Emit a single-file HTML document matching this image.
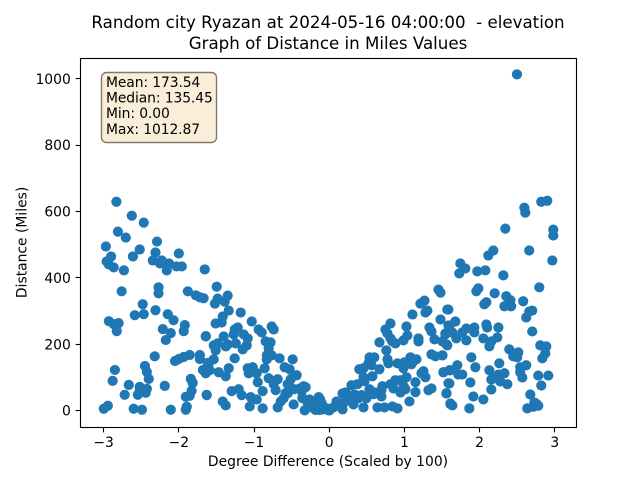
<!DOCTYPE html>
<html>
<head>
<meta charset="utf-8">
<title>Random city Ryazan elevation chart</title>
<style>
html,body{margin:0;padding:0;background:#fff;width:640px;height:480px;overflow:hidden}
svg{display:block}
text{font-family:"DejaVu Sans","Liberation Sans",sans-serif;fill:#000;white-space:pre}
</style>
</head>
<body>
<svg id="chart" width="640" height="480" viewBox="0 0 640 480" xmlns="http://www.w3.org/2000/svg">
  <rect x="0" y="0" width="640" height="480" fill="#fff"/>
  <text x="328" y="28" font-size="16.67" text-anchor="middle" xml:space="preserve">Random city Ryazan at 2024-05-16 04:00:00  - elevation</text>
  <text x="328" y="49" font-size="16.67" text-anchor="middle">Graph of Distance in Miles Values</text>
  <g id="points"></g>
  <g id="xticks"></g>
  <g id="yticks"></g>
  <rect x="80.5" y="58.5" width="496" height="369" fill="none" stroke="#000" stroke-width="1.11"/>
  <text x="328" y="466" font-size="13.89" text-anchor="middle">Degree Difference (Scaled by 100)</text>
  <text transform="translate(26.5 242.4) rotate(-90)" font-size="13.89" text-anchor="middle">Distance (Miles)</text>
  <g>
    <rect x="101.5" y="72.5" width="115" height="70" rx="5" ry="5" fill="#faeed9" stroke="#7f7a70" stroke-width="1.39"/>
    <text x="106" y="87" font-size="13.89" letter-spacing="-0.1">Mean: 173.54</text>
    <text x="106" y="102.5" font-size="13.89" letter-spacing="-0.1">Median: 135.45</text>
    <text x="106" y="118" font-size="13.89" letter-spacing="-0.1">Min: 0.00</text>
    <text x="106" y="134" font-size="13.89" letter-spacing="-0.1">Max: 1012.87</text>
  </g>
</svg>
<script>
const xTicks = [-3,-2,-1,0,1,2,3];
const yTicks = [0,200,400,600,800,1000];
const xValues = [
-2.83,-2.625,-2.466,-2.81,-2.705,-2.97,-2.29,-2.52,-2.31,-2.0,-2.61,-2.90,-2.96,-2.93,-2.865,-2.73,-2.346,-2.226,-2.25,-2.13,-2.03,-1.96,-2.16,-1.655,-2.27,-2.27,-2.76,-1.88,-1.775,-1.72,-1.67,-2.48,-2.31,-2.466,-2.585,-2.147,-2.07,-2.93,-2.865,-2.8,-2.825,-1.92,-1.935,-2.213,-2.107,-2.173,-1.64,-2.32,-1.855,-1.935,-2.0,-2.05,-1.72,-1.72,-2.45,-2.425,-2.4,-2.85,-2.88,-2.665,-2.72,-2.52,-2.425,-2.52,-2.44,-2.545,-2.187,-1.84,-1.815,-1.83,-1.855,-1.907,-1.63,-1.68,-1.64,-1.615,-2.997,-2.944,-2.6,-2.49,-2.107,-1.894,-1.907,
-1.496,-1.35,-1.483,-1.39,-1.52,-1.336,-1.177,-1.416,-1.03,-1.43,-1.51,-1.217,-1.257,-0.938,-0.898,-0.765,-0.738,-1.27,-1.642,-1.403,-1.084,-1.137,-1.483,-1.536,-1.35,-1.243,-0.845,-0.78,-0.805,-1.097,-1.15,-1.509,-1.376,-1.257,-1.536,-0.83,-0.765,-0.66,-0.486,-0.83,-1.6,-1.642,-1.59,-1.336,-1.47,-1.376,-0.858,-1.084,-1.017,-1.07,-0.964,-0.592,-0.526,-0.433,-0.805,-0.685,-0.95,-0.738,-0.512,-0.552,-0.34,-0.885,-0.712,-1.204,-1.297,-1.164,-1.629,-1.044,-0.964,-1.416,-1.376,-1.057,-0.885,-0.685,-0.473,-0.645,-0.58,-0.393,-0.313,-0.526,-0.366,-0.26,-0.14,-0.193,-0.326,-0.18,-0.07,-0.007,-0.207,-0.1,-0.286,-0.127,-0.605,-0.55,-0.47,-0.357,
1.453,1.48,1.267,1.213,1.306,1.28,1.107,1.57,1.48,0.815,1.027,0.748,1.333,1.36,0.775,1.586,1.546,1.04,0.815,1.187,1.187,1.4,0.987,0.668,0.88,0.84,1.56,0.76,1.36,1.413,1.506,0.536,0.6,0.775,0.788,1.08,1.16,1.12,1.094,0.908,1.0,0.96,0.987,0.522,0.562,0.4,0.456,0.668,1.253,1.227,1.28,1.52,1.6,0.456,0.575,0.47,1.027,0.88,0.948,1.147,1.586,0.376,0.296,0.708,0.815,0.99,1.36,1.32,1.147,1.56,0.217,0.177,0.536,0.336,0.43,0.562,0.615,0.695,0.948,1.014,0.855,1.067,1.612,0.097,0.323,0.456,0.177,0.642,0.735,0.841,0.908,0.004,-0.076,-0.12,0.057,0.19,0.257,0.39,0.496,0.59,0.695,0.137,-0.03,
2.9,2.82,2.595,2.608,2.342,2.98,2.98,2.183,2.116,2.66,2.967,1.744,1.81,1.73,1.97,2.076,2.316,2.794,1.983,1.957,2.2,2.355,2.41,2.58,2.09,2.063,2.33,2.42,2.7,2.66,1.585,2.62,1.678,1.6,2.09,2.1,2.25,1.93,1.824,1.93,1.77,1.637,1.545,2.7,2.236,2.05,1.69,1.824,2.156,2.13,1.505,1.57,2.807,2.887,2.395,2.874,2.515,2.834,2.448,2.5,1.505,1.89,2.262,1.944,1.704,2.62,2.54,2.13,1.61,1.518,1.717,1.77,2.54,2.568,2.78,2.914,2.33,2.25,2.21,2.156,2.276,2.369,1.598,1.877,2.82,2.156,1.558,2.674,1.917,2.05,1.638,1.611,1.864,2.728,2.634,2.714,2.78,2.754,2.497
];
const yValues = [
629,587,566,539,521,494,509,485,476,473,464,464,449,440,431,422,452,452,443,443,434,434,422,425,371,353,359,359,347,341,338,320,302,290,287,290,272,269,260,263,239,257,239,245,233,212,224,163,167,161,155,149,167,155,134,116,95,122,89,77,47,71,65,59,53,47,74,95,83,59,44,41,47,122,113,143,5,14,5,2,2,11,2,
373,346,337,328,322,301,295,283,268,265,262,250,244,244,235,253,244,229,223,223,217,229,202,196,199,202,208,205,187,196,184,181,193,157,154,166,166,157,154,154,142,112,121,127,115,103,127,127,130,112,112,130,124,106,97,94,85,79,94,79,73,58,61,64,58,46,46,40,33,27,15,12,6,9,18,27,52,66,70,73,57,33,40,22,0,1,6,0,6,22,22,1,37,52,64,37,
364,355,331,322,301,295,289,304,274,262,253,244,250,238,232,256,229,226,217,217,208,214,211,205,202,208,199,181,169,163,166,160,160,154,142,160,154,148,139,142,145,139,127,142,136,124,127,124,118,112,100,115,121,100,103,88,100,91,91,85,82,79,76,73,79,73,66,61,55,52,54,51,64,48,46,52,54,42,54,64,66,27,19,27,18,9,3,9,9,12,6,0,3,33,9,22,31,37,37,49,61,15,6,
632,629,611,596,548,545,527,482,467,482,452,443,428,413,419,422,407,371,368,359,353,344,332,329,326,320,314,314,301,298,304,280,268,256,259,250,250,250,247,235,235,235,232,238,220,217,217,211,208,193,208,196,196,193,184,172,175,157,163,160,166,160,142,130,136,136,130,121,121,115,108,108,115,99,105,105,112,108,99,93,87,79,81,84,75,63,51,48,42,33,15,21,6,24,6,11,14,20,1013
];

const plotLeft = 80, plotRight = 576, plotTop = 57.6, plotBottom = 427.2;
const xMin = -3.314, xMax = 3.282, yMin = -50.64, yMax = 1063.51;
function xScale(v){ return plotLeft + (v - xMin) / (xMax - xMin) * (plotRight - plotLeft); }
function yScale(v){ return plotBottom - (v - yMin) / (yMax - yMin) * (plotBottom - plotTop); }
function snap(v){ return Math.floor(v) + 0.5; }
const NS = 'http://www.w3.org/2000/svg';

const pointsGroup = document.getElementById('points');
xValues.forEach(function(xv, i){
  const c = document.createElementNS(NS, 'circle');
  
  
  c.setAttribute('cx', xScale(xv));
  c.setAttribute('cy', yScale(yValues[i]));
  c.setAttribute('r', 5.1);
  c.setAttribute('fill', '#1f77b4');
  pointsGroup.appendChild(c);
});

const xGroup = document.getElementById('xticks');
xTicks.forEach(function(t){
  const px = xScale(t);
  const mark = document.createElementNS(NS, 'line');
  
  
  mark.setAttribute('x1', snap(px));
  mark.setAttribute('x2', snap(px));
  mark.setAttribute('y1', 427.5);
  mark.setAttribute('y2', 427.5 + 4.86);
  mark.setAttribute('stroke', '#000');
  mark.setAttribute('stroke-width', 1.11);
  xGroup.appendChild(mark);
  const label = document.createElementNS(NS, 'text');
  
  
  label.setAttribute('x', px);
  label.setAttribute('y', 447);
  label.setAttribute('font-size', 13.89);
  label.setAttribute('text-anchor', 'middle');
  label.textContent = String(t).replace('-', '\u2212');
  xGroup.appendChild(label);
});

const yGroup = document.getElementById('yticks');
yTicks.forEach(function(t){
  const py = yScale(t);
  const mark = document.createElementNS(NS, 'line');
  
  
  mark.setAttribute('x1', 80.5 - 4.86);
  mark.setAttribute('x2', 80.5);
  mark.setAttribute('y1', snap(py));
  mark.setAttribute('y2', snap(py));
  mark.setAttribute('stroke', '#000');
  mark.setAttribute('stroke-width', 1.11);
  yGroup.appendChild(mark);
  const label = document.createElementNS(NS, 'text');
  
  
  label.setAttribute('x', 70.8);
  label.setAttribute('y', py + 5.2);
  label.setAttribute('font-size', 13.89);
  label.setAttribute('text-anchor', 'end');
  label.textContent = String(t);
  yGroup.appendChild(label);
});
</script>
</body>
</html>
